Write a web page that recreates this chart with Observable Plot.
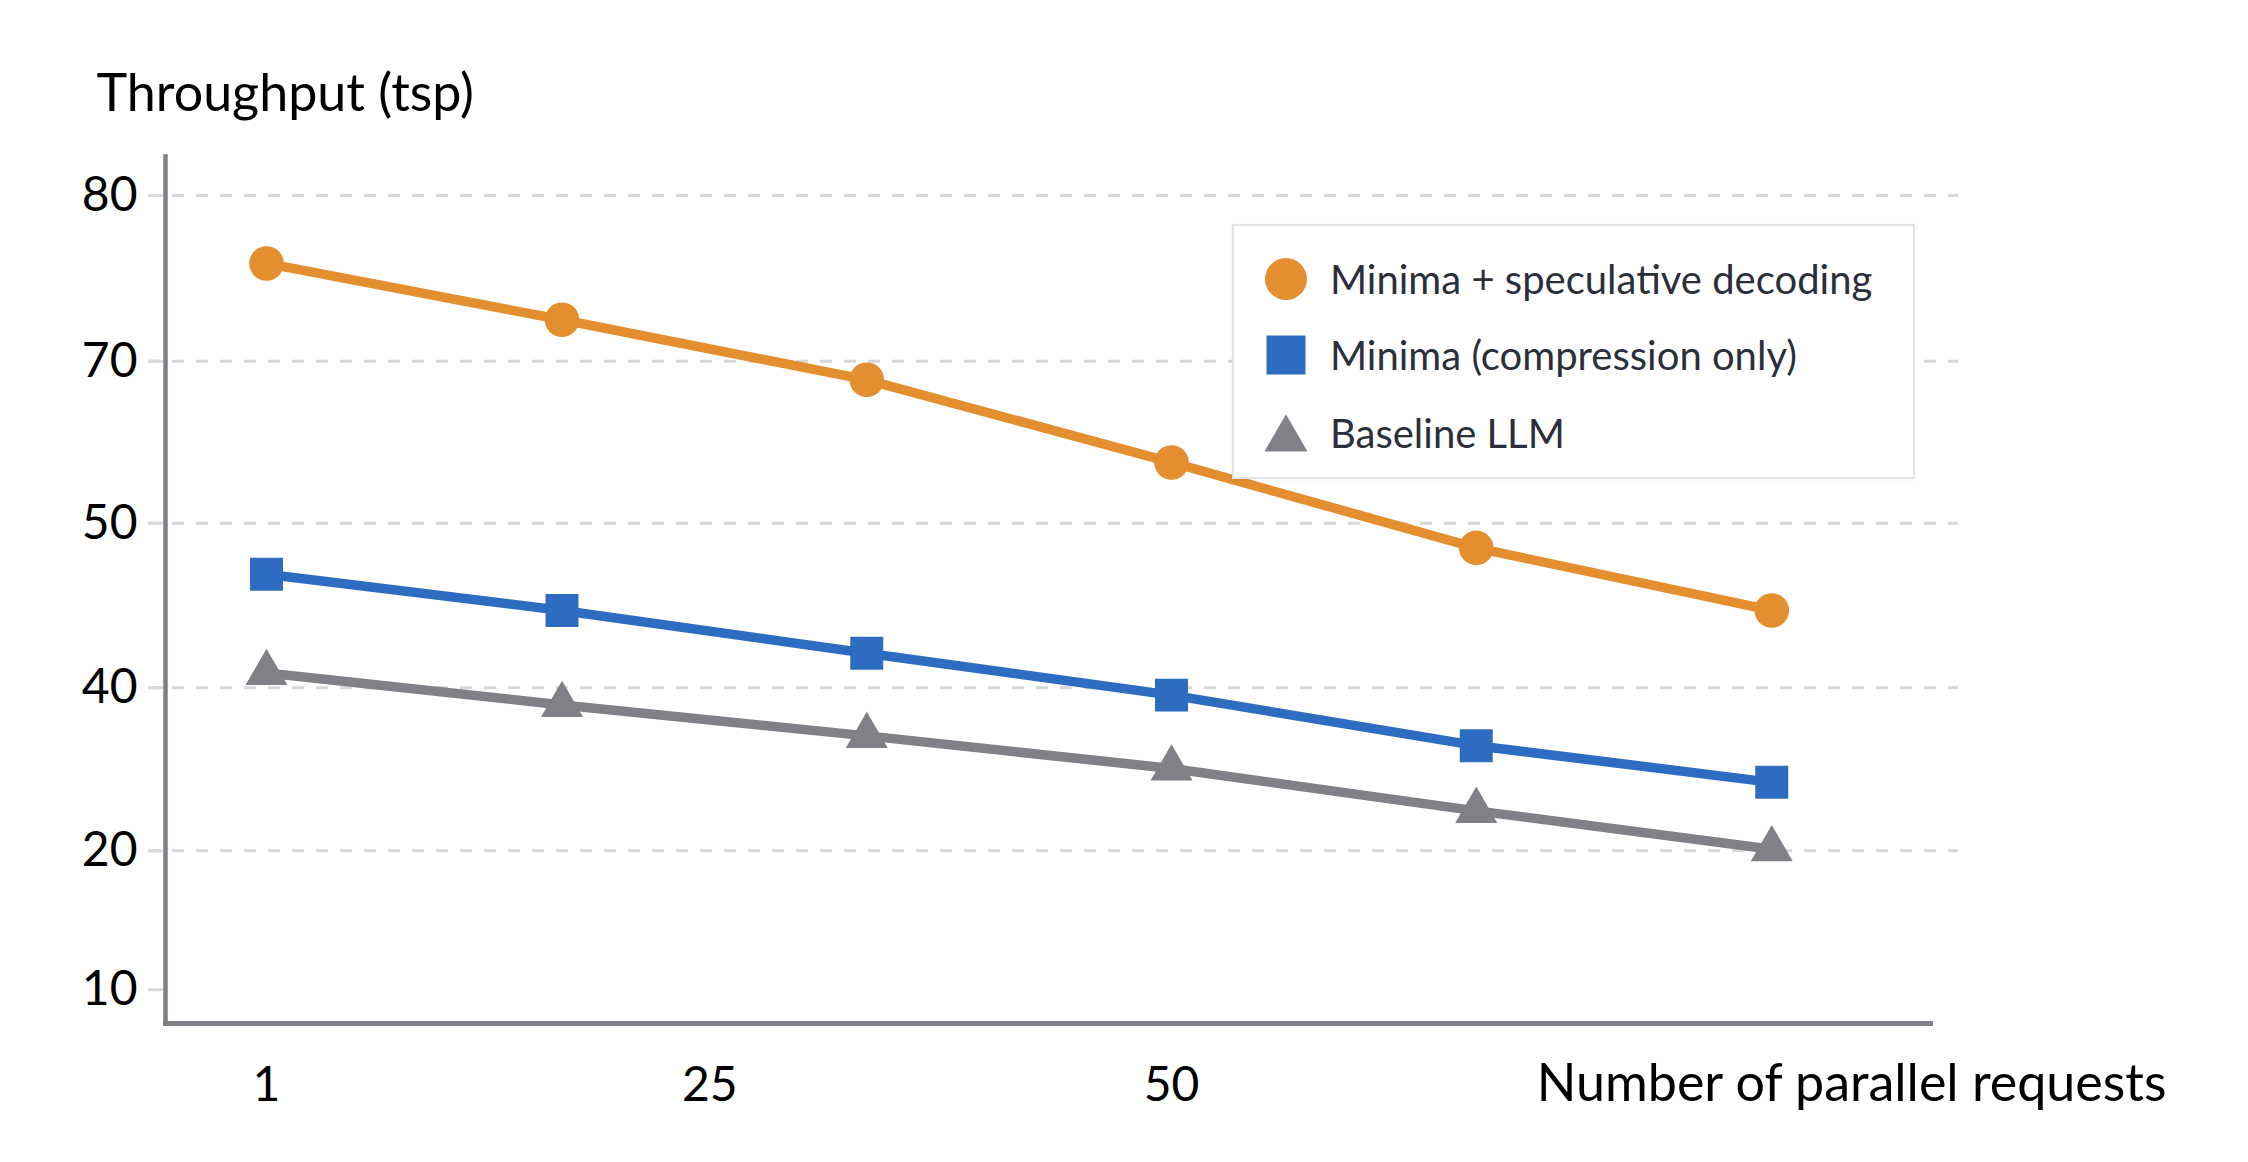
<!DOCTYPE html>
<html>
<head>
<meta charset="utf-8">
<script src="https://cdn.jsdelivr.net/npm/d3@7"></script>
<script src="https://cdn.jsdelivr.net/npm/@observablehq/plot@0.6"></script>
<style>
  html, body { margin: 0; padding: 0; background: #ffffff; }
  #wrap { position: relative; width: 2248px; height: 1162px; overflow: hidden; }
  #legend {
    position: absolute; left: 1232px; top: 224px; width: 683px; height: 255px;
    box-sizing: border-box; border: 2px solid #e3e4e7; background: #ffffff;
    box-shadow: 0 1px 3px rgba(0,0,0,0.05);
    font-family: Lato, "Noto Sans", sans-serif; font-size: 40px; color: #2b2f3a;
  }
  #legend .row { position: absolute; left: 0; height: 60px; display: flex; align-items: center; white-space: nowrap; }
  #legend svg { margin-left: 22px; flex: none; }
  #legend span { margin-left: 14px; }
</style>
</head>
<body>
<div id="wrap"></div>
<script>
// ---- data ----
const series = ["Minima + speculative decoding", "Minima (compression only)", "Baseline LLM"];
const requests = [1, 17, 33.5, 50, 66.5, 82.5];
const speculative = [75.9, 72.5, 67.7, 57.5, 48.5, 44.7];
const compression = [46.9, 44.7, 42.1, 39.1, 32.9, 28.4];
const baseline = [40.9, 37.9, 34.1, 30.1, 24.9, 20.2];
const yTicks = [10, 20, 40, 50, 70, 80];
const gridTicks = [20, 40, 50, 70, 80];
const xTicks = [1, 25, 50];
const colors = ["#e38e2f", "#2d6cc0", "#808186"];

const values = [speculative, compression, baseline];
const data = [];
series.forEach((s, i) => requests.forEach((r, j) => data.push({series: s, requests: r, throughput: values[i][j]})));

const axisColor = "#7e8087";
const font = "Lato, 'Noto Sans', sans-serif";

const chart = Plot.plot({
  width: 2248,
  height: 1162,
  marginLeft: 165,
  marginRight: 318,
  marginTop: 156,
  marginBottom: 139,
  style: {fontFamily: font, color: "#000", background: "transparent", overflow: "visible"},
  x: {type: "linear", domain: [1, 50], range: [266, 1171]},
  y: {type: "linear", domain: yTicks, range: [989.3, 850.3, 687.3, 522.7, 360.7, 195]},
  color: {domain: series, range: colors},
  marks: [
    Plot.gridY(gridTicks, {stroke: "#d8d8d8", strokeOpacity: 1, strokeWidth: 3, strokeDasharray: "12,12", insetLeft: -17, insetRight: -28}),
    Plot.axisY(yTicks, {tickSize: 17, stroke: "#dadada", strokeWidth: 3, tickPadding: 11, fontSize: 48, fill: "#000", label: null}),
    Plot.axisX(xTicks, {tickSize: 0, tickPadding: 43, fontSize: 48, fill: "#000", label: null}),
    Plot.frame({anchor: "left", stroke: axisColor, strokeWidth: 4.5}),
    Plot.frame({anchor: "bottom", stroke: axisColor, strokeWidth: 5}),
    Plot.line(data, {x: "requests", y: "throughput", z: "series", stroke: "series", strokeWidth: 9.5, strokeLinejoin: "round"}),
    Plot.dot(data, {filter: d => d.series === series[0], x: "requests", y: "throughput", fill: colors[0], symbol: "circle", r: 17.3}),
    Plot.dot(data, {filter: d => d.series === series[1], x: "requests", y: "throughput", fill: colors[1], symbol: "square", r: 18.6}),
    Plot.dot(data, {filter: d => d.series === series[2], x: "requests", y: "throughput", fill: colors[2], symbol: "triangle", r: 15.6}),
    Plot.text(["Throughput (tsp)"], {frameAnchor: "top-left", textAnchor: "start", lineAnchor: "bottom", dx: -69, dy: -46, fontSize: 52, fill: "#000"}),
    Plot.text(["Number of parallel requests"], {frameAnchor: "bottom-right", textAnchor: "end", lineAnchor: "bottom", dx: 236, dy: 77, fontSize: 52, fill: "#000"})
  ]
});

const wrap = document.getElementById("wrap");
wrap.appendChild(chart);

// ---- legend ----
const legend = d3.select(wrap).append("div").attr("id", "legend");
const symbols = [d3.symbolCircle, d3.symbolSquare, d3.symbolTriangle];
const symbolSizes = [1385, 1521, 800];
const symbolShift = [0, 0, 6];
const rowCenters = [53, 129, 207];
series.forEach((s, i) => {
  const row = legend.append("div").attr("class", "row").style("top", (rowCenters[i] - 30) + "px");
  const svg = row.append("svg").attr("width", 60).attr("height", 60);
  svg.append("path")
    .attr("transform", `translate(30,${30 + symbolShift[i]})`)
    .attr("d", d3.symbol(symbols[i], symbolSizes[i])())
    .attr("fill", colors[i]);
  row.append("span").text(s);
});
</script>
</body>
</html>
